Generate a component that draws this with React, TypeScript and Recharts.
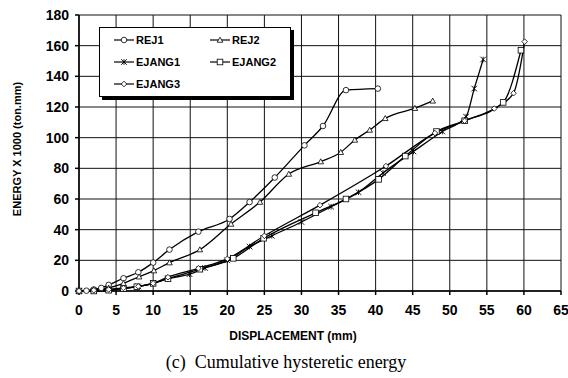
import React from 'react';
import { LineChart, Line, XAxis, YAxis, CartesianGrid } from 'recharts';

// displacement (mm) / energy x1000 (ton.mm)
const rej1X = [0, 1, 2, 3, 4, 6, 8, 10, 12.2, 16.1, 20.3, 23, 26.4, 30.4, 32.9, 36, 40.3];
const rej1Y = [0, 0.2, 1, 2, 4, 8.3, 12.2, 18.5, 27, 38.7, 47, 58, 74, 95, 107.6, 131, 132];

const rej2X = [0, 2, 4, 6, 8.1, 10.1, 12.2, 16.3, 20.5, 24.4, 28.3, 32.6, 35.3, 37.2, 39.2, 41.3, 45.3, 47.7];
const rej2Y = [0, 0.5, 2, 5, 9.3, 13.3, 18.5, 27, 43.7, 58, 76.3, 84.4, 90.5, 98.5, 105, 112.6, 119.2, 124];

const ejang1X = [0, 2, 4, 6, 8, 10, 12, 14.9, 17, 20, 23, 26, 30, 34, 37.7, 41, 45.1, 49, 52.2, 53.3, 54.5];
const ejang1Y = [0, 0, 0.5, 1.5, 3, 5, 8, 11, 15, 20, 29, 36, 45, 55, 64.4, 77, 91, 104, 113.7, 132, 151];

const ejang2X = [0, 2, 4, 6, 7.8, 10, 12, 16.3, 20.8, 24.9, 31.9, 36, 40.4, 44, 48.2, 52, 57.2, 59.6];
const ejang2Y = [0, 0, 0.5, 1.5, 2.8, 5, 8, 14.2, 21.3, 34.4, 51, 60, 72.8, 88, 104, 111, 123, 157];

const ejang3X = [0, 2, 4, 6, 8, 10, 12, 16.1, 20, 25, 32.5, 41.4, 48, 52, 56, 58.6, 60.1];
const ejang3Y = [0, 0.5, 1, 2, 3, 5, 9, 14.8, 21, 36, 56, 81.5, 103, 111, 119, 129, 162.6];

const xTicks = [0, 5, 10, 15, 20, 25, 30, 35, 40, 45, 50, 55, 60, 65];
const yTicks = [0, 20, 40, 60, 80, 100, 120, 140, 160, 180];

const zip = (xs: number[], ys: number[]) => xs.map((x, i) => ({ x, y: ys[i] }));

type Shape = 'circle' | 'triangle' | 'star' | 'square' | 'diamond';

const Marker = ({ shape, cx, cy }: { shape: Shape; cx: number; cy: number }) => {
  const s = 2.8;
  const common = { fill: '#fff', stroke: '#000', strokeWidth: 0.8 };
  if (shape === 'circle') return <circle cx={cx} cy={cy} r={s} {...common} />;
  if (shape === 'square') return <rect x={cx - s} y={cy - s} width={s * 2} height={s * 2} {...common} />;
  if (shape === 'triangle')
    return <polygon points={`${cx},${cy - s} ${cx + s},${cy + s * 0.8} ${cx - s},${cy + s * 0.8}`} {...common} />;
  if (shape === 'diamond')
    return <polygon points={`${cx},${cy - s} ${cx + s},${cy} ${cx},${cy + s} ${cx - s},${cy}`} {...common} />;
  return (
    <g stroke="#000" strokeWidth={0.9}>
      <line x1={cx - s} y1={cy - s} x2={cx + s} y2={cy + s} />
      <line x1={cx - s} y1={cy + s} x2={cx + s} y2={cy - s} />
      <line x1={cx} y1={cy - s} x2={cx} y2={cy + s} />
    </g>
  );
};

const makeDot = (shape: Shape) => (props: any) => (
  <Marker key={`${shape}-${props.index}`} shape={shape} cx={props.cx} cy={props.cy} />
);

const series: { name: string; shape: Shape; data: { x: number; y: number }[] }[] = [
  { name: 'REJ1', shape: 'circle', data: zip(rej1X, rej1Y) },
  { name: 'REJ2', shape: 'triangle', data: zip(rej2X, rej2Y) },
  { name: 'EJANG1', shape: 'star', data: zip(ejang1X, ejang1Y) },
  { name: 'EJANG2', shape: 'square', data: zip(ejang2X, ejang2Y) },
  { name: 'EJANG3', shape: 'diamond', data: zip(ejang3X, ejang3Y) },
];

const LegendBox = () => (
  <div
    style={{
      position: 'absolute',
      left: 99,
      top: 27,
      width: 190,
      height: 68,
      border: '1.5px solid #000',
      boxShadow: '3px 3px 0 #000',
      background: '#fff',
      fontFamily: 'Arial, "Liberation Sans", sans-serif',
      fontWeight: 'bold',
      fontSize: 11,
    }}
  >
    {series.map((s, i) => {
      const col = i % 2;
      const row = Math.floor(i / 2);
      return (
        <div
          key={s.name}
          style={{ position: 'absolute', left: 14 + col * 96, top: 5 + row * 22, display: 'flex', alignItems: 'center' }}
        >
          <svg width={20} height={14}>
            <line x1={0} y1={7} x2={20} y2={7} stroke="#000" strokeWidth={1.2} />
            <Marker shape={s.shape} cx={10} cy={7} />
          </svg>
          <span style={{ marginLeft: 2 }}>{s.name}</span>
        </div>
      );
    })}
  </div>
);

export default function App() {
  const tickStyle = { fontSize: 14, fontWeight: 'bold', fill: '#000', fontFamily: 'Arial, "Liberation Sans", sans-serif' };
  return (
    <div style={{ position: 'absolute', left: 0, top: 0, width: 568, height: 378, background: '#fff' }}>
      <LineChart width={568} height={378} margin={{ top: 15, right: 7, bottom: 57, left: 0 }}>
        <CartesianGrid stroke="#111" strokeWidth={1} />
        <XAxis
          type="number"
          dataKey="x"
          domain={[0, 65]}
          ticks={xTicks}
          height={30}
          stroke="#000"
          strokeWidth={1.5}
          tickSize={4}
          tickMargin={10}
          tick={tickStyle}
          interval={0}
        />
        <YAxis
          type="number"
          dataKey="y"
          domain={[0, 180]}
          ticks={yTicks}
          width={79}
          stroke="#000"
          strokeWidth={1.5}
          tickSize={4}
          tickMargin={6}
          tick={tickStyle}
          interval={0}
        />
        {series.map((s) => (
          <Line
            key={s.name}
            data={s.data}
            dataKey="y"
            name={s.name}
            type="monotone"
            stroke="#000"
            strokeWidth={1.3}
            dot={makeDot(s.shape)}
            activeDot={false}
            isAnimationActive={false}
          />
        ))}
      </LineChart>
      <div
        style={{
          position: 'absolute',
          left: 0,
          top: 0,
          width: 568,
          height: 378,
          pointerEvents: 'none',
          fontFamily: 'Arial, "Liberation Sans", sans-serif',
        }}
      >
        <LegendBox />
        <div
          style={{
            position: 'absolute',
            left: 17,
            top: 149,
            transform: 'translate(-50%, -50%) rotate(-90deg)',
            whiteSpace: 'nowrap',
            fontSize: 11,
            fontWeight: 'bold',
          }}
        >
          ENERGY X 1000 (ton.mm)
        </div>
        <div
          style={{
            position: 'absolute',
            left: 293,
            top: 336,
            transform: 'translate(-50%, -50%)',
            whiteSpace: 'nowrap',
            fontSize: 12,
            fontWeight: 'bold',
          }}
        >
          DISPLACEMENT (mm)
        </div>
        <div
          style={{
            position: 'absolute',
            left: 286,
            top: 362,
            transform: 'translate(-50%, -50%)',
            whiteSpace: 'pre',
            fontSize: 18,
            fontFamily: '"Times New Roman", "Liberation Serif", serif',
          }}
        >
          {'(c)  Cumulative hysteretic energy'}
        </div>
      </div>
    </div>
  );
}
